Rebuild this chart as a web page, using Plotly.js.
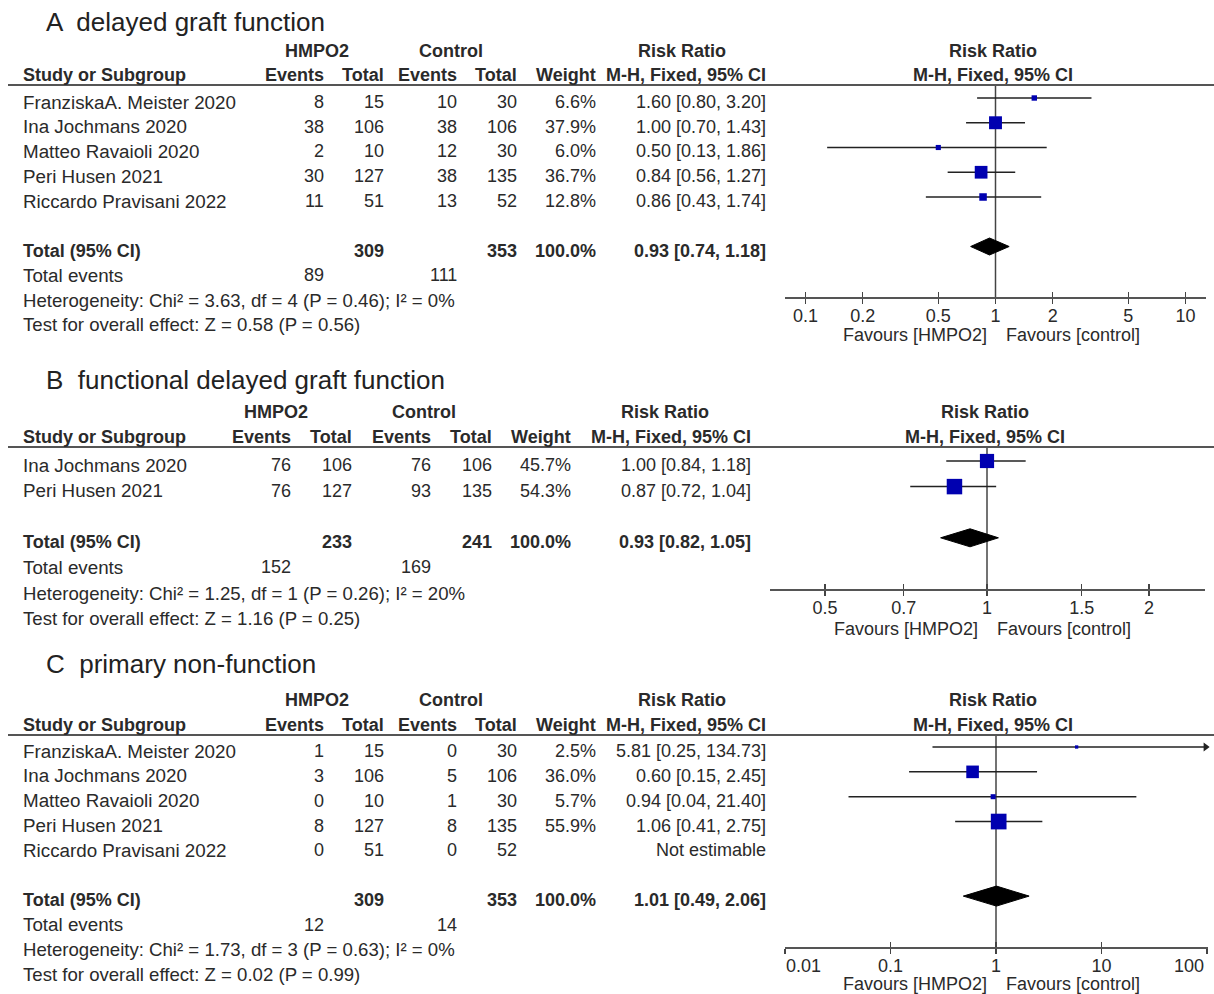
<!DOCTYPE html>
<html><head><meta charset="utf-8">
<script src="https://cdn.plot.ly/plotly-3.0.1.min.js"></script>
<style>html,body{margin:0;padding:0;background:#fff}</style>
</head><body><div id="chart" style="width:1214px;height:994px"></div>
<script>
// ================= DATA =================
// Panel A: delayed graft function
const studiesA = ["FranziskaA. Meister 2020","Ina Jochmans 2020","Matteo Ravaioli 2020","Peri Husen 2021","Riccardo Pravisani 2022"];
const hmpoEventsA = [8, 38, 2, 30, 11];
const hmpoTotalA  = [15, 106, 10, 127, 51];
const ctrlEventsA = [10, 38, 12, 38, 13];
const ctrlTotalA  = [30, 106, 30, 135, 52];
const weightA = [6.6, 37.9, 6.0, 36.7, 12.8];
const rrA   = [1.60, 1.00, 0.50, 0.84, 0.86];
const lowA  = [0.80, 0.70, 0.13, 0.56, 0.43];
const highA = [3.20, 1.43, 1.86, 1.27, 1.74];
const totalNA = [309, 353];
const totalEventsA = [89, 111];
const totalRRA = [0.93, 0.74, 1.18];
const hetA  = "Heterogeneity: Chi² = 3.63, df = 4 (P = 0.46); I² = 0%";
const testA = "Test for overall effect: Z = 0.58 (P = 0.56)";
const ticksA = [0.1, 0.2, 0.5, 1, 2, 5, 10];

// Panel B: functional delayed graft function
const studiesB = ["Ina Jochmans 2020","Peri Husen 2021"];
const hmpoEventsB = [76, 76];
const hmpoTotalB  = [106, 127];
const ctrlEventsB = [76, 93];
const ctrlTotalB  = [106, 135];
const weightB = [45.7, 54.3];
const rrB   = [1.00, 0.87];
const lowB  = [0.84, 0.72];
const highB = [1.18, 1.04];
const totalNB = [233, 241];
const totalEventsB = [152, 169];
const totalRRB = [0.93, 0.82, 1.05];
const hetB  = "Heterogeneity: Chi² = 1.25, df = 1 (P = 0.26); I² = 20%";
const testB = "Test for overall effect: Z = 1.16 (P = 0.25)";
const ticksB = [0.5, 0.7, 1, 1.5, 2];

// Panel C: primary non-function
const studiesC = ["FranziskaA. Meister 2020","Ina Jochmans 2020","Matteo Ravaioli 2020","Peri Husen 2021","Riccardo Pravisani 2022"];
const hmpoEventsC = [1, 3, 0, 8, 0];
const hmpoTotalC  = [15, 106, 10, 127, 51];
const ctrlEventsC = [0, 5, 1, 8, 0];
const ctrlTotalC  = [30, 106, 30, 135, 52];
const weightC = [2.5, 36.0, 5.7, 55.9, null];
const rrC   = [5.81, 0.60, 0.94, 1.06, null];
const lowC  = [0.25, 0.15, 0.04, 0.41, null];
const highC = [134.73, 2.45, 21.40, 2.75, null];
const totalNC = [309, 353];
const totalEventsC = [12, 14];
const totalRRC = [1.01, 0.49, 2.06];
const hetC  = "Heterogeneity: Chi² = 1.73, df = 3 (P = 0.63); I² = 0%";
const testC = "Test for overall effect: Z = 0.02 (P = 0.99)";
const ticksC = [0.01, 0.1, 1, 10, 100];

const titles = ["A  delayed graft function", "B  functional delayed graft function", "C  primary non-function"];

// ================= LAYOUT CONFIG (pixels) =================
const W = 1214, H = 994;
const px = x => x / W, py = y => 1 - y / H;
const FONT = 'Liberation Sans, Arial, sans-serif';
const TXT = '#2a2a2a';
const FS = 18;
const FSL = 18.8;   // left-column labels

const cfg = [
  {titleY:22, groupY:51, headY:75, lineY:85, firstY:98, rowH:24.75, totalIdx:6,
   col:{ev1:325, tot1:385, ev2:458, tot2:518, w:597, ci:767}, grp:{hmpo:317, ctrl:451, rr:682},
   fx0:785, fx1:1206, one:995.5, ppd:190, axisY:297, favY:335, rrC:993, diaH:8.5, edgeLabels:false},
  {titleY:380, groupY:412, headY:437, lineY:447, firstY:461, rowH:25.6, totalIdx:3,
   col:{ev1:292, tot1:353, ev2:432, tot2:493, w:572, ci:752}, grp:{hmpo:276, ctrl:424, rr:665},
   fx0:770, fx1:1205, one:987, ppd:538, axisY:589, favY:629, rrC:985, diaH:9, edgeLabels:false},
  {titleY:664, groupY:700, headY:725, lineY:735, firstY:747, rowH:24.85, totalIdx:6,
   col:{ev1:325, tot1:385, ev2:458, tot2:518, w:597, ci:767}, grp:{hmpo:317, ctrl:451, rr:682},
   fx0:785, fx1:1208, one:996, ppd:105.5, axisY:947, favY:984, rrC:993, diaH:10, edgeLabels:true}
];

const data = [
  {studies:studiesA, ev1:hmpoEventsA, tot1:hmpoTotalA, ev2:ctrlEventsA, tot2:ctrlTotalA, w:weightA, rr:rrA, lo:lowA, hi:highA,
   totN:totalNA, totEv:totalEventsA, totRR:totalRRA, het:hetA, test:testA, ticks:ticksA},
  {studies:studiesB, ev1:hmpoEventsB, tot1:hmpoTotalB, ev2:ctrlEventsB, tot2:ctrlTotalB, w:weightB, rr:rrB, lo:lowB, hi:highB,
   totN:totalNB, totEv:totalEventsB, totRR:totalRRB, het:hetB, test:testB, ticks:ticksB},
  {studies:studiesC, ev1:hmpoEventsC, tot1:hmpoTotalC, ev2:ctrlEventsC, tot2:ctrlTotalC, w:weightC, rr:rrC, lo:lowC, hi:highC,
   totN:totalNC, totEv:totalEventsC, totRR:totalRRC, het:hetC, test:testC, ticks:ticksC}
];

const annotations = [];
const shapes = [];
const traces = [];
const layout = {
  width: W, height: H, margin: {l:0, r:0, t:0, b:0},
  paper_bgcolor: '#fff', plot_bgcolor: 'rgba(0,0,0,0)',
  showlegend: false, font: {family: FONT, size: FS, color: TXT},
  annotations: annotations, shapes: shapes
};

function txt(x, y, text, anchor, size, extra) {
  annotations.push(Object.assign({
    xref: 'paper', yref: 'paper', x: px(x), y: py(y), text: text,
    xanchor: anchor || 'left', yanchor: 'middle', showarrow: false,
    font: {family: FONT, size: size || FS, color: TXT}, borderpad: 0
  }, extra || {}));
}
const fmtCI = (r, l, h) => r.toFixed(2) + ' [' + l.toFixed(2) + ', ' + h.toFixed(2) + ']';

cfg.forEach((c, k) => {
  const d = data[k];
  const n = k + 1;
  const xa = 'xaxis' + (n === 1 ? '' : n), ya = 'yaxis' + (n === 1 ? '' : n);
  const xr = 'x' + (n === 1 ? '' : n), yr = 'y' + (n === 1 ? '' : n);
  const textOff = 4;
  const rowPx = i => c.firstY + i * c.rowH + textOff;

  // Titles and headers
  txt(45, c.titleY, titles[k], 'left', 26, {font: {family: FONT, size: 26, color: '#222'}});
  txt(c.grp.hmpo, c.groupY, '<b>HMPO2</b>', 'center');
  txt(c.grp.ctrl, c.groupY, '<b>Control</b>', 'center');
  txt(c.grp.rr, c.groupY, '<b>Risk Ratio</b>', 'center');
  txt(c.rrC, c.groupY, '<b>Risk Ratio</b>', 'center');
  txt(22, c.headY, '<b>Study or Subgroup</b>', 'left');
  txt(c.col.ev1, c.headY, '<b>Events</b>', 'right');
  txt(c.col.tot1, c.headY, '<b>Total</b>', 'right');
  txt(c.col.ev2, c.headY, '<b>Events</b>', 'right');
  txt(c.col.tot2, c.headY, '<b>Total</b>', 'right');
  txt(c.col.w, c.headY, '<b>Weight</b>', 'right');
  txt(c.col.ci, c.headY, '<b>M-H, Fixed, 95% CI</b>', 'right');
  txt(c.rrC, c.headY, '<b>M-H, Fixed, 95% CI</b>', 'center');
  shapes.push({type:'line', xref:'paper', yref:'paper', x0:px(8), x1:1, y0:py(c.lineY), y1:py(c.lineY),
               line:{color:'#555', width:2}});

  // Study rows
  d.studies.forEach((s, i) => {
    const y = rowPx(i);
    txt(22, y, s, 'left', FSL);
    txt(c.col.ev1, y, String(d.ev1[i]), 'right');
    txt(c.col.tot1, y, String(d.tot1[i]), 'right');
    txt(c.col.ev2, y, String(d.ev2[i]), 'right');
    txt(c.col.tot2, y, String(d.tot2[i]), 'right');
    if (d.w[i] != null) {
      txt(c.col.w, y, d.w[i].toFixed(1) + '%', 'right');
      txt(c.col.ci, y, fmtCI(d.rr[i], d.lo[i], d.hi[i]), 'right');
    } else {
      txt(c.col.ci, y, 'Not estimable', 'right');
    }
  });
  // Totals
  const ty = rowPx(c.totalIdx);
  txt(22, ty, '<b>Total (95% CI)</b>', 'left');
  txt(c.col.tot1, ty, '<b>' + d.totN[0] + '</b>', 'right');
  txt(c.col.tot2, ty, '<b>' + d.totN[1] + '</b>', 'right');
  txt(c.col.w, ty, '<b>100.0%</b>', 'right');
  txt(c.col.ci, ty, '<b>' + fmtCI(d.totRR[0], d.totRR[1], d.totRR[2]) + '</b>', 'right');
  txt(22, rowPx(c.totalIdx + 1), 'Total events', 'left', FSL);
  txt(c.col.ev1, rowPx(c.totalIdx + 1), String(d.totEv[0]), 'right');
  txt(c.col.ev2, rowPx(c.totalIdx + 1), String(d.totEv[1]), 'right');
  txt(22, rowPx(c.totalIdx + 2), d.het, 'left', 18.6);
  txt(22, rowPx(c.totalIdx + 3), d.test, 'left', 18.6);

  // Favours labels
  txt(c.one - 8, c.favY, 'Favours [HMPO2]', 'right');
  txt(c.one + 9, c.favY, 'Favours [control]', 'left');

  // Forest axes
  const xrange = [(c.fx0 - c.one) / c.ppd, (c.fx1 - c.one) / c.ppd];
  const yrange = [(c.axisY - c.firstY) / c.rowH, (c.lineY - c.firstY) / c.rowH];
  const xlo = Math.pow(10, xrange[0]), xhi = Math.pow(10, xrange[1]);
  const ttext = d.ticks.map(String);
  if (c.edgeLabels) {
    // first/last tick labels sit inside the axis ends, as in the reference
    const nT = d.ticks.length;
    const xFirst = c.one + Math.log10(d.ticks[0]) * c.ppd;
    const xLast = c.one + Math.log10(d.ticks[nT - 1]) * c.ppd;
    txt(xFirst, c.axisY + 19, ttext[0], 'left');
    txt(xLast - 2, c.axisY + 19, ttext[nT - 1], 'right');
    ttext[0] = ''; ttext[nT - 1] = '';
  }
  layout[xa] = {
    type: 'log', domain: [px(c.fx0), px(c.fx1)], range: xrange, anchor: yr,
    tickvals: d.ticks, ticktext: ttext, ticks: 'outside', ticklen: 5, tickwidth: 1.5, tickcolor: '#444',
    ticklabelstandoff: -4,
    showline: true, linecolor: '#555', linewidth: 2, showgrid: false, zeroline: false,
    tickfont: {family: FONT, size: FS, color: TXT}, fixedrange: true
  };
  layout[ya] = {
    domain: [py(c.axisY), py(c.lineY)], range: yrange, anchor: xr,
    showline: false, showticklabels: false, showgrid: false, zeroline: false, ticks: '', fixedrange: true
  };
  const ovName = 'xaxis' + (n + 3);
  layout[ovName] = {
    type: 'log', overlaying: xr, range: xrange, anchor: yr, tickvals: d.ticks, ticks: 'inside', ticklen: 5,
    tickwidth: 1.5, tickcolor: '#444', showticklabels: false, showline: false, showgrid: false, zeroline: false
  };
  traces.push({type:'scatter', mode:'markers', xaxis:'x' + (n + 3), yaxis:yr, x:[1], y:[null],
               hoverinfo:'skip', showlegend:false});

  // vertical line at RR = 1
  traces.push({type:'scatter', mode:'lines', xaxis:xr, yaxis:yr, x:[1, 1], y:[yrange[0], yrange[1]],
               line:{color:'#444', width:1.5}, hoverinfo:'skip', cliponaxis:false});

  // CI lines
  const lx = [], ly = [], ax = [], ay = [];
  d.rr.forEach((r, i) => {
    if (r == null) return;
    const hiClip = Math.min(d.hi[i], xhi * 0.97);
    lx.push(Math.max(d.lo[i], xlo), hiClip, null); ly.push(i, i, null);
    if (d.hi[i] > xhi) { ax.push(xhi * 0.95); ay.push(i); }
  });
  traces.push({type:'scatter', mode:'lines', xaxis:xr, yaxis:yr, x:lx, y:ly,
               line:{color:'#222', width:1.5}, hoverinfo:'skip', cliponaxis:false});
  if (ax.length) {
    traces.push({type:'scatter', mode:'markers', xaxis:xr, yaxis:yr, x:ax, y:ay,
                 marker:{symbol:'triangle-right', size:8, color:'#222'}, hoverinfo:'skip', cliponaxis:false});
  }
  // study squares
  const mx = [], my = [], ms = [];
  d.rr.forEach((r, i) => { if (r != null) { mx.push(r); my.push(i); ms.push(2.1 * Math.sqrt(d.w[i])); } });
  traces.push({type:'scatter', mode:'markers', xaxis:xr, yaxis:yr, x:mx, y:my,
               marker:{symbol:'square', size:ms, color:'#0000b0', opacity:1, line:{width:0}}, hoverinfo:'skip', cliponaxis:false});
  // diamond
  const h = c.diaH / c.rowH, t = c.totalIdx;
  traces.push({type:'scatter', mode:'lines', xaxis:xr, yaxis:yr,
               x:[d.totRR[1], d.totRR[0], d.totRR[2], d.totRR[0], d.totRR[1]],
               y:[t, t - h, t, t + h, t], fill:'toself', fillcolor:'#000', line:{color:'#000', width:1},
               hoverinfo:'skip'});
});

Plotly.newPlot('chart', traces, layout, {displayModeBar:false, staticPlot:true});
</script></body></html>
